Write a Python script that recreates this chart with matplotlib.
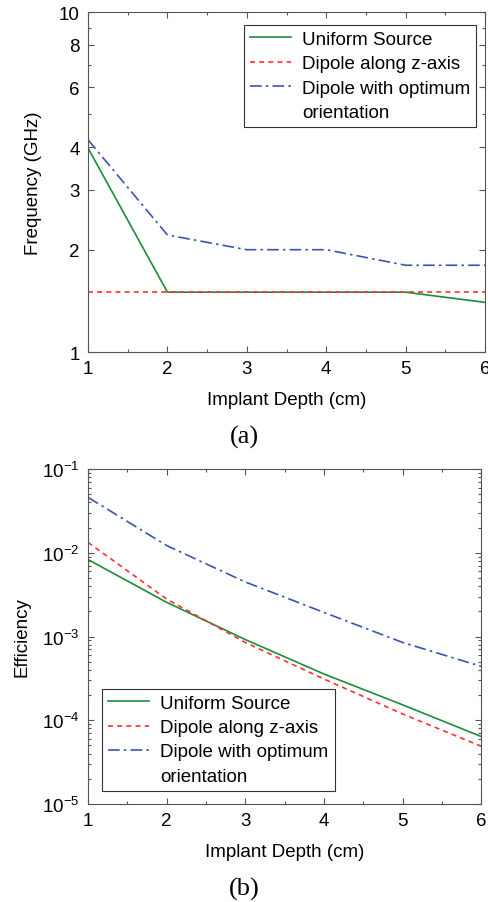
import matplotlib
matplotlib.use("Agg")
import matplotlib.pyplot as plt
from matplotlib.lines import Line2D
from matplotlib.ticker import FixedLocator, NullFormatter, LogLocator

plt.rcParams['font.family'] = ['Liberation Sans', 'DejaVu Sans']
plt.rcParams['mathtext.default'] = 'regular'

depth = [1, 2, 3, 4, 5, 6]
labels = ["Uniform Source", "Dipole along z-axis", "Dipole with optimum", "orientation"]

# (a) frequency in GHz
freq_uniform = [3.98, 1.5, 1.5, 1.5, 1.5, 1.40]
freq_dipole_z = [1.5, 1.5, 1.5, 1.5, 1.5, 1.5]
freq_dipole_opt = [4.21, 2.21, 2.0, 2.0, 1.80, 1.80]

# (b) efficiency
eff_uniform = [8.3e-3, 2.56e-3, 9.2e-4, 3.57e-4, 1.53e-4, 6.4e-5]
eff_dipole_z = [1.33e-2, 2.8e-3, 8.5e-4, 3.11e-4, 1.19e-4, 4.9e-5]
eff_dipole_opt = [4.59e-2, 1.22e-2, 4.48e-3, 1.94e-3, 8.5e-4, 4.4e-4]

green = '#1e8c3a'
red = '#ff3030'
blue = '#3a55b0'
fs = 13.5

fig = plt.figure(figsize=(4.89, 9.03), dpi=100)
ax1 = fig.add_axes([0.18, 0.609, 0.812, 0.3766])
ax2 = fig.add_axes([0.18, 0.1085, 0.804, 0.371])

def style(ax):
    ax.tick_params(which='both', direction='in', top=True, right=True,
                   labelsize=fs, color='#555555', width=0.8, pad=6)
    ax.tick_params(which='major', length=4)
    ax.tick_params(which='minor', length=2.5)
    for s in ax.spines.values():
        s.set_color('#555555')
        s.set_linewidth(0.8)
    ax.set_xlim(1, 6)
    ax.set_xticks(depth)
    ax.xaxis.set_minor_locator(FixedLocator([1.5, 2.5, 3.5, 4.5, 5.5]))
    ax.set_xlabel("Implant Depth (cm)", fontsize=fs, labelpad=10)

def add_legend(ax, lines, **kw):
    # second line of the last label goes in its own row, like the original
    blank = Line2D([], [], color='none')
    leg = ax.legend(lines + [blank], labels, fontsize=fs, fancybox=False,
                    edgecolor='#333333', framealpha=1,
                    handlelength=2.2, borderpad=0.32, labelspacing=0.38,
                    handletextpad=0.6, borderaxespad=0, **kw)
    leg.get_frame().set_linewidth(0.8)
    return leg

l1, = ax1.plot(depth, freq_uniform, color=green, lw=1.2)
l2, = ax1.plot(depth, freq_dipole_z, color=red, lw=1.2, ls=(0, (3, 2.5)))
l3, = ax1.plot(depth, freq_dipole_opt, color=blue, lw=1.2, ls=(0, (7, 2.5, 1.5, 2.5)))
ax1.set_yscale('log')
ax1.set_ylim(1, 10)
style(ax1)
yt = [1, 2, 3, 4, 6, 8, 10]
ax1.yaxis.set_major_locator(FixedLocator(yt))
ax1.set_yticklabels([str(v) for v in yt])
ax1.yaxis.set_minor_locator(FixedLocator([5, 7, 9]))
ax1.yaxis.set_minor_formatter(NullFormatter())
ax1.set_ylabel("Frequency (GHz)", fontsize=fs, labelpad=12)
add_legend(ax1, [l1, l2, l3], loc='upper right', bbox_to_anchor=(0.978, 0.962))
fig.text(0.5, 0.516, "(a)", ha='center', va='center', fontsize=19, family='Liberation Serif')

m1, = ax2.plot(depth, eff_uniform, color=green, lw=1.2)
m2, = ax2.plot(depth, eff_dipole_z, color=red, lw=1.2, ls=(0, (3, 2.5)))
m3, = ax2.plot(depth, eff_dipole_opt, color=blue, lw=1.2, ls=(0, (7, 2.5, 1.5, 2.5)))
ax2.set_yscale('log')
ax2.set_ylim(1e-5, 1e-1)
style(ax2)
yt2 = [1e-5, 1e-4, 1e-3, 1e-2, 1e-1]
ax2.yaxis.set_major_locator(FixedLocator(yt2))
ax2.set_yticklabels(["10$^{-5}$", "10$^{-4}$", "10$^{-3}$", "10$^{-2}$", "10$^{-1}$"])
ax2.yaxis.set_minor_locator(LogLocator(base=10, subs=range(2, 10)))
ax2.yaxis.set_minor_formatter(NullFormatter())
ax2.set_ylabel("Efficiency", fontsize=fs, labelpad=8)
add_legend(ax2, [m1, m2, m3], loc='lower left', bbox_to_anchor=(0.035, 0.04))
fig.text(0.5, 0.0155, "(b)", ha='center', va='center', fontsize=19, family='Liberation Serif')

fig.savefig("out.png", dpi=100)
